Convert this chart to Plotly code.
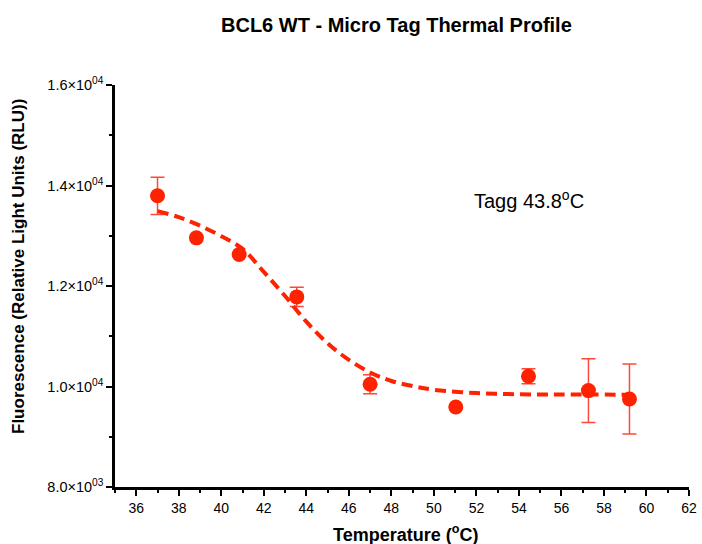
import plotly.graph_objects as go

# Measured data
temperature = [37.0, 38.83, 40.84, 43.55, 47.0, 51.03, 54.45, 57.27, 59.2]
fluorescence = [13795, 12958, 12627, 11783, 10044, 9592, 10203, 9918, 9751]
error = [370, 0, 0, 190, 190, 0, 150, 635, 697]

# Fitted sigmoid curve
fit_x = [37, 38, 39, 40, 41, 42, 43, 44, 45, 46, 47, 48, 49, 50, 52, 54, 56, 59.2]
fit_y = [13490, 13370, 13200, 12990, 12740, 12280, 11800, 11290, 10860, 10530,
         10280, 10110, 10010, 9935, 9870, 9845, 9840, 9838]

x_ticks = list(range(36, 63, 2))
y_tickvals = [8000, 10000, 12000, 14000, 16000]
y_ticktext = ["8.0×10<sup>03</sup>", "1.0×10<sup>04</sup>", "1.2×10<sup>04</sup>",
              "1.4×10<sup>04</sup>", "1.6×10<sup>04</sup>"]

RED = "#FF2200"

L, R, T, B = 115, 13, 85, 57
W, H = 702, 544
PW, PH = W - L - R, H - T - B


def px_x(px):
    return (px - L) / PW


def px_y(py):
    return (H - B - py) / PH


fig = go.Figure()
fig.add_trace(go.Scatter(
    x=fit_x, y=fit_y, mode="lines", line=dict(color=RED, width=4, dash="11px,6px", shape="spline"),
    hoverinfo="skip", showlegend=False))
fig.add_trace(go.Scatter(
    x=temperature, y=fluorescence, mode="markers",
    marker=dict(color=RED, size=15, line=dict(width=0)),
    error_y=dict(type="data", array=error, visible=True, color="rgba(255,40,20,0.85)",
                 thickness=1.5, width=7),
    showlegend=False))

font_family = "Liberation Sans, Arial, sans-serif"
fig.update_layout(
    width=W, height=H,
    margin=dict(l=L, r=R, t=T, b=B, autoexpand=False),
    plot_bgcolor="white", paper_bgcolor="white",
    font=dict(family=font_family, color="black", size=14),
    xaxis=dict(range=[35, 62], tickvals=x_ticks, showgrid=False, zeroline=False,
               automargin=False,
               showline=True, linecolor="black", linewidth=2.5,
               ticks="outside", ticklen=6, tickwidth=2, tickcolor="black",
               tickfont=dict(size=14),
               minor=dict(ticks="outside", ticklen=3, tickwidth=2, tickcolor="black",
                          tick0=35, dtick=1)),
    yaxis=dict(range=[8000, 16000], tickvals=y_tickvals, ticktext=y_ticktext,
               showgrid=False, zeroline=False, automargin=False,
               showline=True, linecolor="black", linewidth=2.5,
               ticks="outside", ticklen=6, tickwidth=2, tickcolor="black",
               tickfont=dict(size=14.5),
               minor=dict(ticks="outside", ticklen=3, tickwidth=2, tickcolor="black",
                          tick0=8000, dtick=1000)),
    annotations=[
        dict(text="<b>BCL6 WT - Micro Tag Thermal Profile</b>", xref="paper", yref="paper",
             x=px_x(396), y=px_y(25), showarrow=False,
             font=dict(size=20), xanchor="center", yanchor="middle"),
        dict(text="<b>Temperature (<sup>o</sup>C)</b>", xref="paper", yref="paper",
             x=px_x(405), y=px_y(533), showarrow=False,
             font=dict(size=18), xanchor="center", yanchor="middle"),
        dict(text="<b>Fluorescence (Relative Light Units (RLU))</b>", xref="paper", yref="paper",
             x=px_x(18), y=px_y(267), showarrow=False, textangle=-90,
             font=dict(size=17), xanchor="center", yanchor="middle"),
        dict(text="Tagg 43.8<sup>o</sup>C", xref="x", yref="y", x=54.47, y=13731,
             showarrow=False, font=dict(size=20), xanchor="center", yanchor="middle"),
    ],
)

fig.write_html("out.html", config={"displayModeBar": False},
               post_script="document.body.style.margin='0';document.body.style.overflow='hidden';")
